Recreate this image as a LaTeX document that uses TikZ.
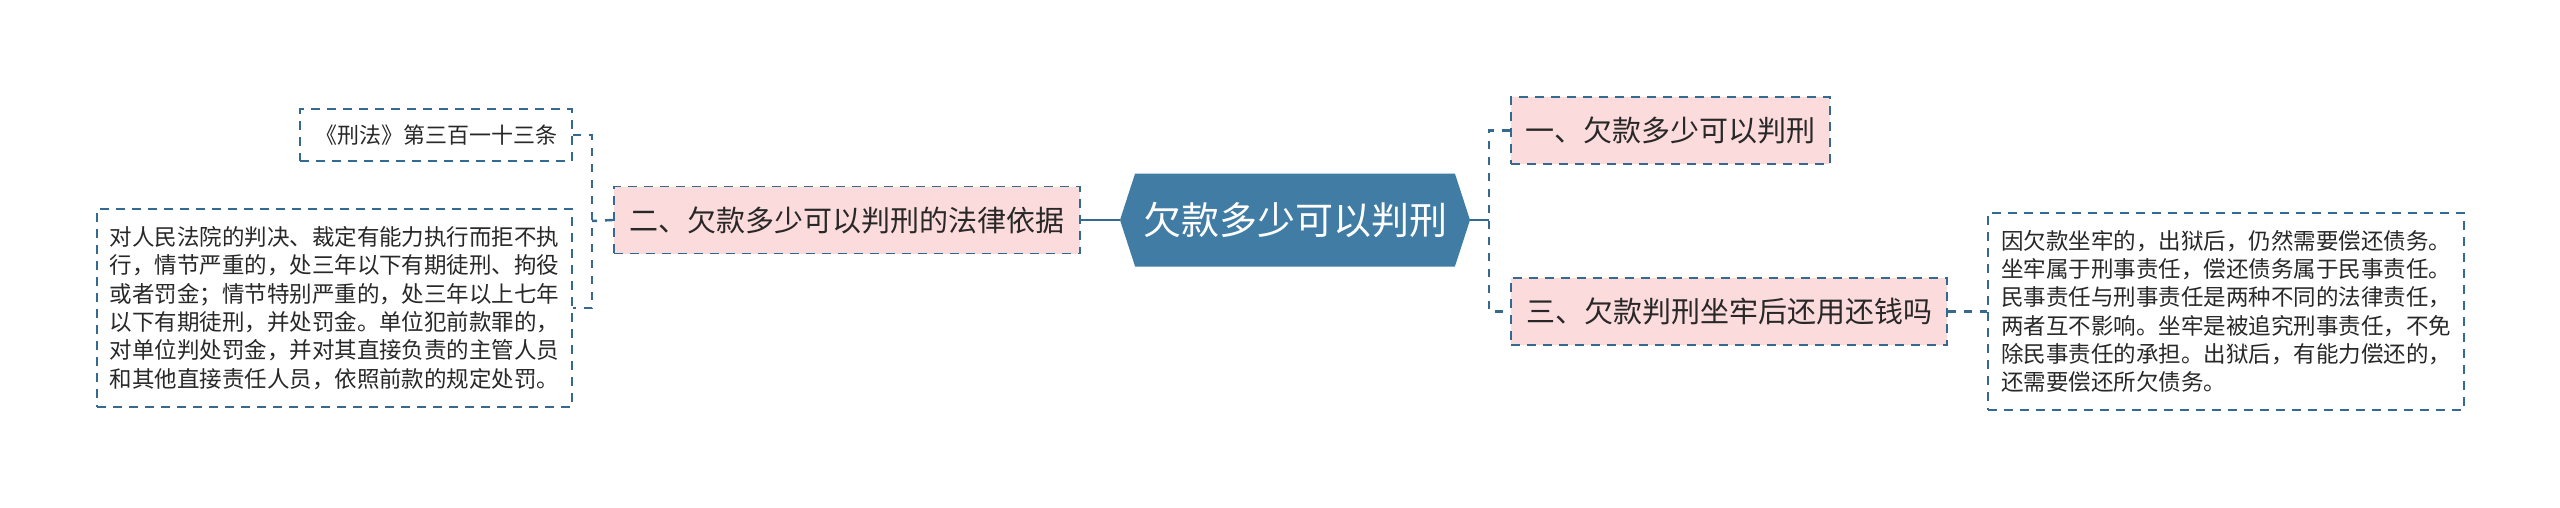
\documentclass[tikz,border=0pt]{standalone}
\usepackage{fontspec}
\setmainfont{Noto Sans CJK SC}
\usepackage{xcolor}
\usetikzlibrary{shapes,arrows.meta,positioning,calc}
\definecolor{hubblue}{RGB}{64, 124, 164}
\definecolor{linkblue}{RGB}{52, 106, 146}
\definecolor{topicpink}{RGB}{251, 219, 219}
\definecolor{inkgray}{RGB}{40, 40, 40}

\begin{document}
\begin{tikzpicture}[
    x=1pt, y=-1pt,
    hub/.style={signal, signal to=west and east, signal pointer angle=144, fill=hubblue, text=white, inner sep=0pt, minimum width=350pt, minimum height=93pt, font=\fontsize{38}{46}\selectfont},
    topic/.style={rectangle, draw=linkblue, fill=topicpink, line width=1.8pt, dash pattern=on 9pt off 7pt, minimum height=67pt, inner sep=0pt, text=inkgray, font=\fontsize{29}{35}\selectfont},
    note/.style={rectangle, draw=linkblue, line width=1.6pt, dash pattern=on 9pt off 7pt, inner sep=0pt, align=left, text=inkgray, font=\fontsize{22.5}{28.3}\selectfont},
    link/.style={linkblue, line width=2.6pt},
    dlink/.style={link, line width=2.4pt, dash pattern=on 8pt off 8pt}
]
    \useasboundingbox[fill=white] (0,0) rectangle (2560,507);

    \node[hub] (hub) at (1295,220) {欠款多少可以判刑};
    \node[topic, minimum width=466pt, left=39pt of hub] (q2) {二、欠款多少可以判刑的法律依据};
    \node[topic, minimum width=319pt] (q1) at (1670.5,130.5) {一、欠款多少可以判刑};
    \node[topic, minimum width=436pt] (q3) at (1729,311.5) {三、欠款判刑坐牢后还用还钱吗};

    \node[note, minimum width=272pt, minimum height=52pt, font=\fontsize{22}{26}\selectfont] (law) at (436,135) {《刑法》第三百一十三条};
    \node[note, minimum width=475pt, minimum height=198pt] (basis) at (334.5,308) {对人民法院的判决、裁定有能力执行而拒不执\\行，情节严重的，处三年以下有期徒刑、拘役\\或者罚金；情节特别严重的，处三年以上七年\\以下有期徒刑，并处罚金。单位犯前款罪的，\\对单位判处罚金，并对其直接负责的主管人员\\和其他直接责任人员，依照前款的规定处罚。};
    \node[note, minimum width=476pt, minimum height=197pt] (repay) at (2226,311.5) {因欠款坐牢的，出狱后，仍然需要偿还债务。\\坐牢属于刑事责任，偿还债务属于民事责任。\\民事责任与刑事责任是两种不同的法律责任，\\两者互不影响。坐牢是被追究刑事责任，不免\\除民事责任的承担。出狱后，有能力偿还的，\\还需要偿还所欠债务。};

    \coordinate (rj) at (1489,220);
    \coordinate (lj) at (592,221);

    \draw[link] (hub.west) -- (q2.east);
    \draw[link] (hub.east) -- (rj);
    \draw[dlink] (q1.west) -| (rj) |- (q3.west);
    \draw[dlink] (q2.west) -- (lj);
    \draw[dlink] (law.east) -| (lj) |- (basis.east);
    \draw[dlink] (q3.east) -- (repay.west);
\end{tikzpicture}
\end{document}
